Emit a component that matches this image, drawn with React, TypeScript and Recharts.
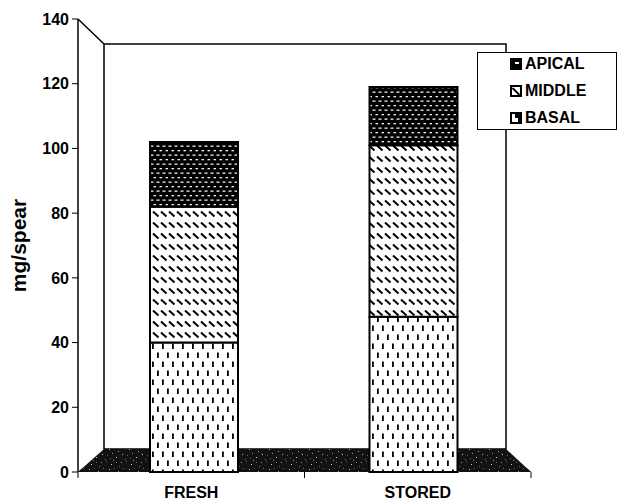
import React from 'react';
import { BarChart, Bar, XAxis, YAxis, Legend, Customized } from 'recharts';

// Dry matter per spear, by spear section
const categories = ['FRESH', 'STORED'];
const basal = [40, 48];
const middle = [42, 53];
const apical = [20, 18];
const yTicks = [0, 20, 40, 60, 80, 100, 120, 140];

const data = categories.map((name, i) => ({
  name,
  basal: basal[i],
  middle: middle[i],
  apical: apical[i],
}));

const FONT = '"Liberation Sans", Arial, Helvetica, sans-serif';
const W = 619;
const H = 500;
const MARGIN = { top: 19, right: 88, bottom: 0, left: 0 };
const Y_AXIS_W = 78;
const X_AXIS_H = 28;

// plot box (front edges) and the receding back wall of the 3D frame
const PL = MARGIN.left + Y_AXIS_W;
const PR = W - MARGIN.right;
const PT = MARGIN.top;
const PB = H - MARGIN.bottom - X_AXIS_H;
const BACK_L = PL + 26;
const BACK_R = PR - 25;
const BACK_T = PT + 25;
const BACK_B = PB - 23;

const specks: [number, number, number, string][] = [
  [1, 2, 1, '#9a9a9a'], [6, 1, 1, '#5a5a5a'], [11, 4, 1, '#c8c8c8'], [16, 2, 1, '#6e6e6e'],
  [3, 8, 1, '#707070'], [9, 9, 1, '#b0b0b0'], [14, 8, 1, '#4e4e4e'], [18, 11, 1, '#9e9e9e'],
  [2, 14, 1, '#c0c0c0'], [7, 15, 1, '#5e5e5e'], [12, 13, 1, '#8a8a8a'], [16, 17, 1, '#d0d0d0'],
  [5, 19, 1, '#7a7a7a'], [10, 18, 1, '#4a4a4a'], [19, 6, 1, '#666666'], [13, 0, 1, '#8c8c8c'],
];

const Patterns = () => (
  <defs>
    <pattern id="apicalPat" width="6" height="9" patternUnits="userSpaceOnUse">
      <rect width="6" height="9" fill="#000" />
      <rect x="0.5" y="1.5" width="3" height="1.3" fill="#f0f0f0" />
      <rect x="3.5" y="6" width="3" height="1.3" fill="#f0f0f0" />
    </pattern>
    <pattern id="middlePat" width="8" height="11" patternUnits="userSpaceOnUse">
      <rect width="8" height="11" fill="#fff" />
      <line x1="1" y1="2.5" x2="6.5" y2="7.5" stroke="#000" strokeWidth="2" />
    </pattern>
    <pattern id="basalPat" width="10" height="18" patternUnits="userSpaceOnUse">
      <rect width="10" height="18" fill="#fff" />
      <rect x="2" y="1.5" width="1.8" height="5.5" fill="#000" />
      <rect x="7" y="10.5" width="1.8" height="5.5" fill="#000" />
    </pattern>
    <pattern id="floorTex" width="20" height="20" patternUnits="userSpaceOnUse">
      <rect width="20" height="20" fill="#121212" />
      {specks.map(([x, y, s, c], i) => (
        <rect key={i} x={x} y={y} width={s} height={s} fill={c} />
      ))}
    </pattern>
  </defs>
);

// back wall, left side wall and floor, drawn behind the columns
const BackFrame = () => (
  <g>
    <Patterns />
    <polygon
      points={`${PL},${PT} ${BACK_L},${BACK_T} ${BACK_L},${BACK_B} ${PL},${PB}`}
      fill="#fff"
    />
    <rect
      x={BACK_L}
      y={BACK_T}
      width={BACK_R - BACK_L}
      height={BACK_B - BACK_T}
      fill="#fff"
      stroke="#000"
      strokeWidth={1.5}
    />
    <line x1={PL} y1={PT} x2={BACK_L} y2={BACK_T} stroke="#000" strokeWidth={1.5} />
    <polygon
      points={`${PL},${PB} ${BACK_L},${BACK_B} ${BACK_R},${BACK_B} ${PR},${PB}`}
      fill="url(#floorTex)"
    />
  </g>
);

// front lip of the floor in front of the columns, plus the category boundary ticks
const FrontFrame = () => {
  const mid = (PL + PR) / 2;
  return (
    <g>
      <polygon
        points={`${PL},${PB} ${PL + 4.5},${PB - 4} ${PR - 4.3},${PB - 4} ${PR},${PB}`}
        fill="url(#floorTex)"
      />
      {[PL, mid, PR].map((x, i) => (
        <line key={i} x1={x} y1={PB} x2={x} y2={PB + 6} stroke="#000" strokeWidth={1} />
      ))}
    </g>
  );
};

const YLabel = (props: any) => {
  const vb = props.viewBox || { x: 0, y: PT, width: Y_AXIS_W, height: PB - PT };
  const cx = vb.x + 18;
  const cy = vb.y + vb.height / 2;
  return (
    <text
      x={cx}
      y={cy}
      transform={`rotate(-90 ${cx} ${cy})`}
      textAnchor="middle"
      dominantBaseline="central"
      fontFamily={FONT}
      fontWeight="bold"
      fontSize={21}
      fill="#000"
    >
      mg/spear
    </text>
  );
};

const XTick = (props: any) => {
  const { x, payload } = props;
  return (
    <text
      x={x}
      y={H - 2}
      textAnchor="middle"
      fontFamily={FONT}
      fontWeight="bold"
      fontSize={16}
      fill="#000"
    >
      {payload.value}
    </text>
  );
};

const legendItems = [
  { key: 'apical', label: 'APICAL' },
  { key: 'middle', label: 'MIDDLE' },
  { key: 'basal', label: 'BASAL' },
];

const LegendIcon = ({ kind }: { kind: string }) => {
  if (kind === 'apical') {
    return (
      <svg width="12" height="12" style={{ display: 'block' }}>
        <rect x="0" y="0" width="12" height="12" fill="#000" />
        <rect x="5" y="4" width="4" height="2" fill="#fff" />
      </svg>
    );
  }
  if (kind === 'middle') {
    return (
      <svg width="12" height="12" style={{ display: 'block' }}>
        <rect x="1" y="1" width="10" height="10" fill="#fff" stroke="#000" strokeWidth="2" />
        <line x1="2.5" y1="3" x2="9.5" y2="10" stroke="#000" strokeWidth="1.8" />
      </svg>
    );
  }
  return (
    <svg width="12" height="12" style={{ display: 'block' }}>
      <rect x="1" y="1" width="10" height="10" fill="#fff" stroke="#000" strokeWidth="2" />
      <rect x="5" y="2" width="5" height="4" fill="#000" />
      <rect x="8" y="2" width="2" height="8" fill="#000" />
    </svg>
  );
};

const LegendBox = () => (
  <div
    style={{
      position: 'relative',
      width: 140,
      height: 78,
      boxSizing: 'border-box',
      border: '1px solid #000',
      background: '#fff',
      fontFamily: FONT,
      fontWeight: 'bold',
      fontSize: 16,
      color: '#000',
    }}
  >
    {legendItems.map((item, i) => (
      <div
        key={item.key}
        style={{
          position: 'absolute',
          left: 32,
          top: 1 + i * 27,
          height: 20,
          display: 'flex',
          alignItems: 'center',
          lineHeight: '20px',
        }}
      >
        <LegendIcon kind={item.key} />
        <span style={{ marginLeft: 3 }}>{item.label}</span>
      </div>
    ))}
  </div>
);

export default function App() {
  return (
    <div style={{ position: 'absolute', left: 0, top: 0, width: W, height: H, background: '#fff' }}>
      <BarChart width={W} height={H} data={data} margin={MARGIN} barSize={88}>
        <Customized component={<BackFrame />} />
        <XAxis
          xAxisId="cat"
          dataKey="name"
          height={X_AXIS_H}
          interval={0}
          axisLine={{ stroke: '#000', strokeWidth: 1.5 }}
          tickLine={false}
          tick={<XTick />}
        />
        <XAxis xAxisId="bars" dataKey="name" hide padding={{ left: 6, right: 8 }} />
        <YAxis
          domain={[0, 140]}
          ticks={yTicks}
          interval={0}
          width={Y_AXIS_W}
          axisLine={{ stroke: '#000', strokeWidth: 1.5 }}
          tickLine={{ stroke: '#000' }}
          tickSize={6}
          tickMargin={3}
          tick={{ fill: '#000', fontSize: 16, fontWeight: 'bold', fontFamily: FONT }}
          label={<YLabel />}
        />
        <Bar dataKey="basal" name="BASAL" stackId="s" xAxisId="bars" fill="url(#basalPat)" stroke="#000" strokeWidth={2} isAnimationActive={false} />
        <Bar dataKey="middle" name="MIDDLE" stackId="s" xAxisId="bars" fill="url(#middlePat)" stroke="#000" strokeWidth={2} isAnimationActive={false} />
        <Bar dataKey="apical" name="APICAL" stackId="s" xAxisId="bars" fill="url(#apicalPat)" stroke="#000" strokeWidth={2} isAnimationActive={false} />
        <Customized component={<FrontFrame />} />
        <Legend
          layout="vertical"
          align="center"
          verticalAlign="middle"
          content={<LegendBox />}
          wrapperStyle={{ left: 477, top: 52, width: 140, height: 78 }}
        />
      </BarChart>
    </div>
  );
}
